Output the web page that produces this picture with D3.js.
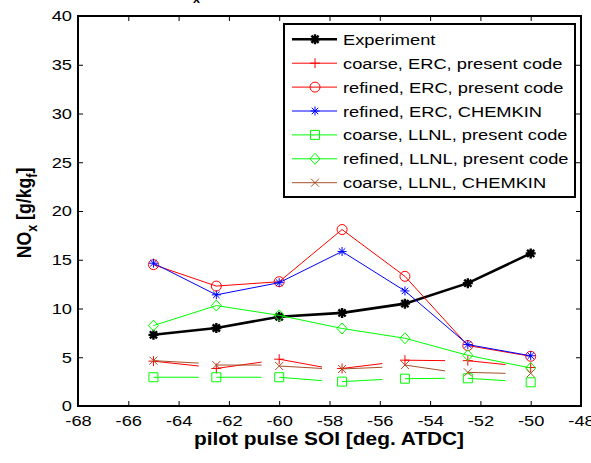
<!DOCTYPE html>
<html>
<head>
<meta charset="utf-8">
<script src="https://cdn.jsdelivr.net/npm/d3@7"></script>
<style>
  body { margin:0; background:#fff; }
  text { font-family:"Liberation Sans", Arial, sans-serif; fill:#000; }
</style>
</head>
<body>
<div id="chart"></div>
<script>
// data
const soi = [-65, -62.5, -60, -57.5, -55, -52.5, -50];
const experiment        = [7.3, 8.0, 9.15, 9.55, 10.5, 12.6, 15.65];
const refinedErc        = [14.5, 12.3, 12.75, 18.1, 13.3, 6.2, 5.1];
const refinedErcChemkin = [14.65, 11.4, 12.65, 15.85, 11.8, 6.3, 5.15];
const refinedLlnl       = [8.25, 10.3, 9.3, 7.95, 6.95, 5.2, 3.9];
// coarse runs are drawn as broken pieces: marker value, then where each piece ends
const segEnd = [-63.2, -60.7, -58.3, -55.9, -53.4, -51.0];
const coarseErc            = [4.6, 3.85, 4.8, 3.85, 4.7, 4.65, 3.95];
const coarseErcEnd         = [4.1, 4.5, 4.0, 4.35, 4.65, 4.25];
const coarseLlnl           = [2.95, 2.95, 2.95, 2.5, 2.8, 2.84, 2.43];
const coarseLlnlEnd        = [2.95, 2.95, 2.6, 2.72, 2.84, 2.6];
const coarseLlnlChemkin    = [4.65, 4.2, 4.1, 3.8, 4.2, 3.45, 3.35];
const coarseLlnlChemkinEnd = [4.4, 4.2, 3.85, 3.97, 3.6, 3.35];
const xTicks = [-68, -66, -64, -62, -60, -58, -56, -54, -52, -50, -48];
const yTicks = [0, 5, 10, 15, 20, 25, 30, 35, 40];

const SX = 1.18; // the picture is stretched sideways a bit
const W = 591, H = 463;
const x = d3.scaleLinear().domain([-68, -48]).range([78, 581]);
const y = d3.scaleLinear().domain([0, 40]).range([406, 16]);

const brown = "#a5502a";
const marker = {
  star: r => { const q = r*0.72; return `M${-r},0H${r}M0,${-r}V${r}M${-q},${-q}L${q},${q}M${-q},${q}L${q},${-q}`; },
  plus: r => `M${-r},0H${r}M0,${-r}V${r}`,
  times: r => `M${-r},${-r}L${r},${r}M${-r},${r}L${r},${-r}`,
  circle: r => `M${r},0A${r},${r},0,1,1,${-r},0A${r},${r},0,1,1,${r},0Z`,
  square: r => `M${-r},${-r}H${r}V${r}H${-r}Z`,
  diamond: r => `M0,${-r*1.1}L${r},0L0,${r*1.1}L${-r},0Z`
};

const series = [
  {name:"Experiment", vals:experiment, color:"#000", lw:2.6, m:"star", r:5, mw:2.4},
  {name:"coarse, ERC, present code", vals:coarseErc, ends:coarseErcEnd, color:"#f00", lw:1, m:"plus", r:5, mw:1},
  {name:"refined, ERC, present code", vals:refinedErc, color:"#f00", lw:1, m:"circle", r:5, mw:1},
  {name:"refined, ERC, CHEMKIN", vals:refinedErcChemkin, color:"#00f", lw:1, m:"star", r:4.5, mw:1},
  {name:"coarse, LLNL, present code", vals:coarseLlnl, ends:coarseLlnlEnd, color:"#0f0", lw:1, m:"square", r:4.5, mw:1},
  {name:"refined, LLNL, present code", vals:refinedLlnl, color:"#0f0", lw:1, m:"diamond", r:5, mw:1},
  {name:"coarse, LLNL, CHEMKIN", vals:coarseLlnlChemkin, ends:coarseLlnlChemkinEnd, color:brown, lw:1, m:"times", r:4, mw:1}
];

const svg = d3.select("#chart").append("svg").attr("width", W).attr("height", H);
svg.append("rect").attr("width", W).attr("height", H).attr("fill", "#fff");

function stretch(sel) {
  sel.each(function() {
    const t = d3.select(this);
    const tx = +t.attr("x") || 0, ty = +t.attr("y") || 0;
    t.attr("x", 0).attr("y", 0).attr("transform", `translate(${tx},${ty}) scale(${SX},1)`);
  });
}

// axes, ticks inward on all four sides
const gx = svg.append("g").attr("transform", `translate(0,${y(0)})`)
  .call(d3.axisBottom(x).tickValues(xTicks).tickFormat(d => String(d)).tickSize(-5).tickPadding(9));
const gy = svg.append("g").attr("transform", `translate(${x(-68)},0)`)
  .call(d3.axisLeft(y).tickValues(yTicks).tickFormat(d => String(d)).tickSize(-5).tickPadding(6));
svg.append("g").attr("transform", `translate(0,${y(40)})`)
  .call(d3.axisTop(x).tickValues(xTicks).tickFormat("").tickSize(-5));
svg.append("g").attr("transform", `translate(${x(-48)},0)`)
  .call(d3.axisRight(y).tickValues(yTicks).tickFormat("").tickSize(-5));
svg.selectAll(".domain").remove();
svg.selectAll(".tick line").attr("stroke", "#000").attr("stroke-width", 1);
svg.selectAll(".tick text").attr("font-size", 15.5).attr("font-family", null).style("fill", "#000");
stretch(gx.selectAll(".tick text"));
stretch(gy.selectAll(".tick text"));

svg.append("rect").attr("x", x(-68)).attr("y", y(40))
  .attr("width", x(-48) - x(-68)).attr("height", y(0) - y(40))
  .attr("fill", "none").attr("stroke", "#000").attr("stroke-width", 2);

// series
const plot = svg.append("g");
const line = d3.line().x(d => x(d[0])).y(d => y(d[1]));
series.forEach(s => {
  const pts = soi.map((v, i) => [v, s.vals[i]]);
  if (s.ends) {
    segEnd.forEach((e, i) => {
      plot.append("path").attr("d", line([pts[i], [e, s.ends[i]]]))
        .attr("fill", "none").attr("stroke", s.color).attr("stroke-width", s.lw);
    });
  } else {
    plot.append("path").attr("d", line(pts))
      .attr("fill", "none").attr("stroke", s.color).attr("stroke-width", s.lw);
  }
  plot.selectAll(null).data(pts).join("path")
    .attr("transform", d => `translate(${x(d[0])},${y(d[1])})`)
    .attr("d", marker[s.m](s.r))
    .attr("fill", "none").attr("stroke", s.color).attr("stroke-width", s.mw);
});

// legend
const lg = svg.append("g");
lg.append("rect").attr("x", 284).attr("y", 24).attr("width", 291).attr("height", 173)
  .attr("fill", "#fff").attr("stroke", "#000").attr("stroke-width", 2);
series.forEach((s, i) => {
  const ry = 39.3 + i * 23.9;
  lg.append("line").attr("x1", 292).attr("x2", 337).attr("y1", ry).attr("y2", ry)
    .attr("stroke", s.color).attr("stroke-width", s.lw);
  lg.append("path").attr("transform", `translate(315,${ry})`).attr("d", marker[s.m](s.r))
    .attr("fill", "none").attr("stroke", s.color).attr("stroke-width", s.mw);
  lg.append("text").attr("x", 343).attr("y", ry + 5.5).attr("font-size", 15.5).text(s.name).call(stretch);
});

// axis labels
svg.append("text").attr("x", 329).attr("y", 445).attr("text-anchor", "middle")
  .attr("font-size", 17.7).attr("font-weight", "bold").text("pilot pulse SOI [deg. ATDC]").call(stretch);

const yl = svg.append("text").attr("transform", `translate(31,213) rotate(-90) scale(1,${SX})`)
  .attr("text-anchor", "middle").attr("font-size", 17.7).attr("font-weight", "bold");
yl.append("tspan").text("NO");
yl.append("tspan").attr("font-size", 12.5).attr("dy", 5).text("x");
yl.append("tspan").attr("dy", -5).text(" [g/kg");
yl.append("tspan").attr("font-size", 12.5).attr("dy", 5).text("f");
yl.append("tspan").attr("dy", -5).text("]");

// title, almost entirely above the window: only the subscript shows
const tt = svg.append("text").attr("x", 200).attr("y", -3).attr("text-anchor", "end")
  .attr("font-size", 17.7).attr("font-weight", "bold");
tt.append("tspan").text("NO");
tt.append("tspan").attr("font-size", 12.5).attr("dy", 6).text("x");
</script>
</body>
</html>
